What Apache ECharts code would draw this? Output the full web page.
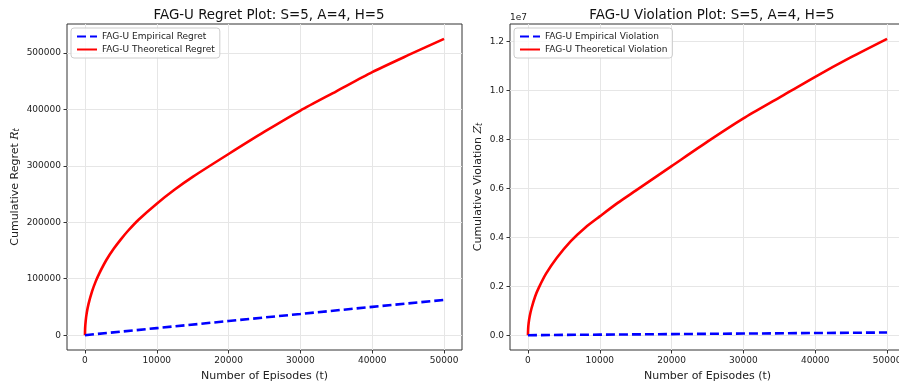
<!DOCTYPE html>
<html>
<head>
<meta charset="utf-8">
<script src="https://cdn.jsdelivr.net/npm/echarts@6/dist/echarts.min.js"></script>
<style>
  html, body { margin: 0; padding: 0; background: #fff; }
  #main { width: 899px; height: 385px; }
</style>
</head>
<body>
<div id="main"></div>
<script>
var regretT = [0, 25, 100, 250, 500, 1000, 1500, 2000, 3000, 4000, 5000, 6000, 7500, 10000, 12500, 15000, 20000, 25000, 30000, 35000, 40000, 45000, 50000];
var theoRegret = [0, 12500, 25000, 39500, 55500, 78000, 95300, 109600, 133600, 153000, 169700, 185000, 205000, 233000, 258000, 280500, 321000, 360500, 398000, 432000, 466000, 496000, 525000];
var empT = [0, 10000, 20000, 30000, 40000, 50000];
var empRegret = [0, 12500, 25100, 37600, 50200, 62400];

var violT = [0, 25, 100, 250, 500, 1000, 1500, 2500, 4000, 6000, 8000, 10000, 12500, 15000, 20000, 25000, 30000, 35000, 40000, 45000, 50000];
var theoViol = [0, 250000, 500000, 780000, 1100000, 1580000, 1930000, 2500000, 3150000, 3850000, 4400000, 4850000, 5400000, 5900000, 6900000, 7900000, 8850000, 9700000, 10550000, 11350000, 12100000];
var empViol = [0, 22000, 44000, 66000, 88000, 110000];

var xTicks = [0, 10000, 20000, 30000, 40000, 50000];
var regretTicks = [0, 100000, 200000, 300000, 400000, 500000];
var violTicks = [0, 2000000, 4000000, 6000000, 8000000, 10000000, 12000000];

function pairs(xs, ys) {
  return xs.map(function (x, i) { return [x, ys[i]]; });
}

var font = 'DejaVu Sans';
var chart = echarts.init(document.getElementById('main'));

function xAxis(gridIndex) {
  return {
    type: 'value', gridIndex: gridIndex, min: -2500, max: 52500,
    name: 'Number of Episodes (t)', nameLocation: 'middle', nameGap: 21,
    nameTextStyle: { fontFamily: font, fontSize: 11, color: '#222' },
    axisLine: { show: false, onZero: false },
    axisTick: { show: true, length: 3.5, customValues: xTicks, lineStyle: { color: '#333' } },
    axisLabel: { customValues: xTicks, fontFamily: font, fontSize: 9, color: '#222', margin: 6,
      formatter: function (v) { return String(v); } },
    splitLine: { show: true, lineStyle: { color: '#e6e6e6', width: 1 } }
  };
}

var legendBase = {
  orient: 'vertical', itemWidth: 20, itemHeight: 8, itemGap: 4, padding: [4, 5, 4, 5],
  backgroundColor: 'rgba(255,255,255,0.8)', borderColor: '#ccc', borderWidth: 1, borderRadius: 3,
  itemStyle: { opacity: 0 },
  textStyle: { fontFamily: font, fontSize: 9, color: '#222' }
};

chart.setOption({
  animation: false,
  title: [
    { text: 'FAG-U Regret Plot: S=5, A=4, H=5', left: 264, top: 4, textAlign: 'center',
      textStyle: { fontFamily: font, fontSize: 13.4, fontWeight: 'normal', color: '#111' } },
    { text: 'FAG-U Violation Plot: S=5, A=4, H=5', left: 707, top: 4, textAlign: 'center',
      textStyle: { fontFamily: font, fontSize: 13.4, fontWeight: 'normal', color: '#111' } }
  ],
  graphic: [
    { type: 'text', left: 510, top: 13, style: { text: '1e7', font: '9px "DejaVu Sans"', fill: '#222' } }
  ],
  legend: [
    Object.assign({ data: ['FAG-U Empirical Regret', 'FAG-U Theoretical Regret'], left: 71, top: 28 }, legendBase),
    Object.assign({ data: ['FAG-U Empirical Violation', 'FAG-U Theoretical Violation'], left: 514, top: 28 }, legendBase)
  ],
  grid: [
    { left: 67, top: 24, width: 395, height: 326, outerBoundsMode: 'none', containLabel: false,
      show: true, borderColor: '#333', borderWidth: 1 },
    { left: 510, top: 24, width: 395, height: 326, outerBoundsMode: 'none', containLabel: false,
      show: true, borderColor: '#333', borderWidth: 1 }
  ],
  xAxis: [xAxis(0), xAxis(1)],
  yAxis: [
    {
      type: 'value', gridIndex: 0, min: -26250, max: 551250,
      name: 'Cumulative Regret {m|R}{s|t}', nameLocation: 'middle', nameGap: 46,
      nameTextStyle: { fontFamily: font, fontSize: 11, color: '#222',
        rich: { m: { fontFamily: 'DejaVu Serif', fontStyle: 'italic', fontSize: 11, color: '#222' },
                s: { fontFamily: font, fontStyle: 'italic', fontSize: 8, color: '#222', verticalAlign: 'bottom' } } },
      axisLine: { show: false, onZero: false },
      axisTick: { show: true, length: 3.5, customValues: regretTicks, lineStyle: { color: '#333' } },
      axisLabel: { customValues: regretTicks, fontFamily: font, fontSize: 9, color: '#222', margin: 6,
        formatter: function (v) { return String(v); } },
      splitLine: { show: true, lineStyle: { color: '#e6e6e6', width: 1 } }
    },
    {
      type: 'value', gridIndex: 1, min: -605000, max: 12705000,
      name: 'Cumulative Violation {m|Z}{s|t}', nameLocation: 'middle', nameGap: 26,
      nameTextStyle: { fontFamily: font, fontSize: 11, color: '#222',
        rich: { m: { fontFamily: 'DejaVu Serif', fontStyle: 'italic', fontSize: 11, color: '#222' },
                s: { fontFamily: font, fontStyle: 'italic', fontSize: 8, color: '#222', verticalAlign: 'bottom' } } },
      axisLine: { show: false, onZero: false },
      axisTick: { show: true, length: 3.5, customValues: violTicks, lineStyle: { color: '#333' } },
      axisLabel: { customValues: violTicks, fontFamily: font, fontSize: 9, color: '#222', margin: 6,
        formatter: function (v) { return (v / 1e7).toFixed(1); } },
      splitLine: { show: true, lineStyle: { color: '#e6e6e6', width: 1 } }
    }
  ],
  series: [
    { name: 'FAG-U Empirical Regret', type: 'line', xAxisIndex: 0, yAxisIndex: 0, symbol: 'none',
      data: pairs(empT, empRegret), color: '#0000ff', lineStyle: { color: '#0000ff', width: 2.6, type: [9, 4] }, z: 3 },
    { name: 'FAG-U Theoretical Regret', type: 'line', xAxisIndex: 0, yAxisIndex: 0, symbol: 'none',
      smooth: 0.25,
      data: pairs(regretT, theoRegret), color: '#ff0000', lineStyle: { color: '#ff0000', width: 2.6 }, z: 2 },
    { name: 'FAG-U Empirical Violation', type: 'line', xAxisIndex: 1, yAxisIndex: 1, symbol: 'none',
      data: pairs(empT, empViol), color: '#0000ff', lineStyle: { color: '#0000ff', width: 2.6, type: [9, 4] }, z: 3 },
    { name: 'FAG-U Theoretical Violation', type: 'line', xAxisIndex: 1, yAxisIndex: 1, symbol: 'none',
      smooth: 0.25,
      data: pairs(violT, theoViol), color: '#ff0000', lineStyle: { color: '#ff0000', width: 2.6 }, z: 2 }
  ]
});
</script>
</body>
</html>
